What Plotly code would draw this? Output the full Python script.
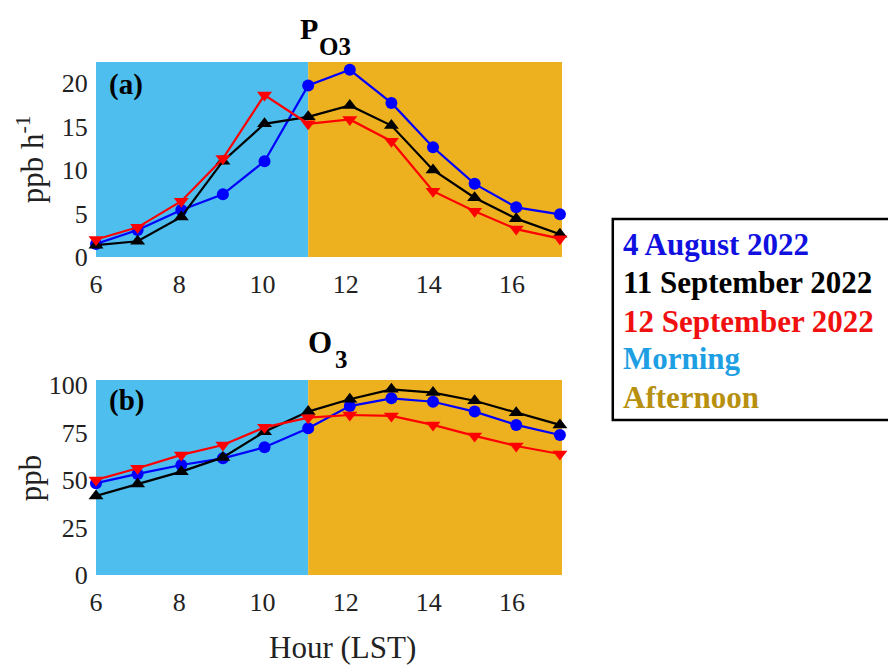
import plotly.graph_objects as go

hours = [6.0, 7.0, 8.05, 9.05, 10.05, 11.1, 12.1, 13.1, 14.1, 15.1, 16.1, 17.15]

po3_aug4 = [1.5, 3.1, 5.4, 7.2, 11.0, 19.7, 21.5, 17.7, 12.6, 8.4, 5.7, 4.9]
po3_sep11 = [1.35, 1.8, 4.6, 11.0, 15.3, 16.1, 17.4, 15.1, 10.0, 6.8, 4.4, 2.6]
po3_sep12 = [2.0, 3.4, 6.4, 11.3, 18.6, 15.3, 15.8, 13.3, 7.55, 5.25, 3.2, 2.1]

o3_aug4 = [48.3, 53.2, 57.9, 61.4, 67.2, 77.2, 88.9, 93.0, 91.2, 86.0, 79.0, 73.7]
o3_sep11 = [41.6, 47.9, 54.4, 61.9, 75.4, 86.0, 92.5, 97.7, 96.0, 91.7, 85.4, 79.0]
o3_sep12 = [50.0, 56.2, 63.2, 68.4, 77.7, 82.8, 84.2, 83.7, 79.0, 73.2, 67.9, 63.7]

series_names = ["4 August 2022", "11 September 2022", "12 September 2022"]
series_colors = ["#0000FF", "#000000", "#FF0000"]
series_symbols = ["circle", "triangle-up", "triangle-down"]
series_sizes = [12, 13, 13]

morning_span = [6.0, 11.1]
afternoon_span = [11.1, 17.2]
x_ticks = [6, 8, 10, 12, 14, 16]
po3_ticks = [0, 5, 10, 15, 20]
o3_ticks = [0, 25, 50, 75, 100]

legend_items = series_names + ["Morning", "Afternoon"]
legend_colors = ["#1010E0", "#000000", "#F01010", "#1E9FE3", "#B8900F"]

MORNING = "#4DBEEE"
AFTERNOON = "#EDB120"
FONT = "Liberation Serif, Times New Roman, serif"

fig = go.Figure()

panels = [("x", "y", [po3_aug4, po3_sep11, po3_sep12]),
          ("x2", "y2", [o3_aug4, o3_sep11, o3_sep12])]
for xa, ya, data in panels:
    for name, col, sym, sz, vals in zip(series_names, series_colors, series_symbols, series_sizes, data):
        fig.add_trace(go.Scatter(
            x=hours, y=vals, xaxis=xa, yaxis=ya, mode="lines+markers", name=name,
            line=dict(color=col, width=2.2),
            marker=dict(color=col, symbol=sym, size=sz),
            cliponaxis=False, showlegend=False))

for xr, yr in [("x", "y domain"), ("x2", "y2 domain")]:
    fig.add_shape(type="rect", xref=xr, yref=yr, x0=morning_span[0], x1=morning_span[1],
                  y0=0, y1=1, fillcolor=MORNING, line_width=0, layer="below")
    fig.add_shape(type="rect", xref=xr, yref=yr, x0=afternoon_span[0], x1=afternoon_span[1],
                  y0=0, y1=1, fillcolor=AFTERNOON, line_width=0, layer="below")

axis_common = dict(showgrid=False, zeroline=False, showline=False,
                   tickfont=dict(family=FONT, size=26, color="#222"),
                   ticks="outside", tickcolor="rgba(0,0,0,0)")

xax = dict(range=[6, 17.2], tickvals=x_ticks, ticklen=4, **axis_common)
fig.update_layout(
    width=888, height=660,
    margin=dict(l=88, r=334, t=54, b=93),
    paper_bgcolor="white", plot_bgcolor="white",
    xaxis=dict(domain=[0, 1], anchor="y", **xax),
    yaxis=dict(domain=[0.62, 1], anchor="x", range=[0, 22.4], tickvals=po3_ticks, ticklen=2, **axis_common),
    xaxis2=dict(domain=[0, 1], anchor="y2", **xax),
    yaxis2=dict(domain=[0, 0.38], anchor="x2", range=[0, 102.6], tickvals=o3_ticks, ticklen=2, **axis_common),
)

def txt(text, x, y, size, color="black", xanchor="center", angle=0):
    return dict(text=text, xref="paper", yref="paper", x=x, y=y, xanchor=xanchor,
                yanchor="middle", textangle=angle, showarrow=False,
                font=dict(family=FONT, size=size, color=color))

ann = []
# panel titles (main letter + lowered subscript)
ann.append(txt("<b>P</b>", 0.458, 1.066, 30))
ann.append(txt("<b>O3</b>", 0.513, 1.031, 25))
ann.append(txt("<b>O</b>", 0.481, 0.454, 31))
ann.append(txt("<b>3</b>", 0.526, 0.421, 25))
# panel labels
ann.append(txt("<b>(a)</b>", 0.024, 0.956, 29, xanchor="left"))
ann.append(txt("<b>(b)</b>", 0.024, 0.341, 29, xanchor="left"))
# axis titles
ann.append(txt("ppb h<sup>-1</sup>", -0.14, 0.81, 31, "#222", angle=-90))
ann.append(txt("ppb", -0.14, 0.19, 31, "#222", angle=-90))
ann.append(txt("Hour (LST)", 0.53, -0.142, 31, "#222"))

# legend box text, one line each
legend_y = [(575 - py) / 513 for py in (244, 282, 321, 358, 397)]
for t, c, yy in zip(legend_items, legend_colors, legend_y):
    ann.append(txt(f"<b>{t}</b>", 1.126, yy, 31, c, xanchor="left"))
fig.update_layout(annotations=ann)

fig.add_shape(type="rect", xref="paper", yref="paper", x0=1.109, x1=1.71, y0=0.302, y1=0.694,
              line=dict(color="black", width=2.5), fillcolor="rgba(0,0,0,0)")

fig.write_html("out.html")
